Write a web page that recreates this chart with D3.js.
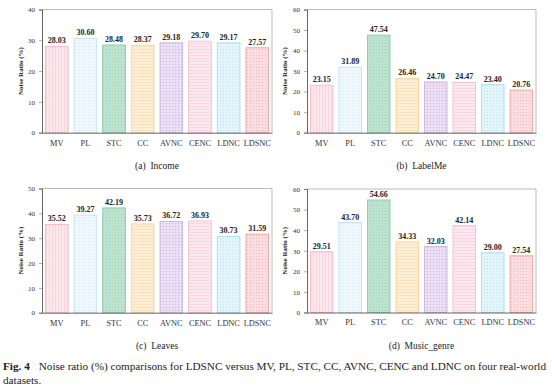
<!DOCTYPE html>
<html><head><meta charset="utf-8">
<script src="https://cdn.jsdelivr.net/npm/d3@7"></script>
<style>
body{margin:0;background:#fff;}
svg text{font-family:"Liberation Serif","Times New Roman",serif;}
</style></head>
<body>
<svg id="chart" width="554" height="392"></svg>
<script>
const methods = ["MV","PL","STC","CC","AVNC","CENC","LDNC","LDSNC"];
const incomeValues = [28.03,30.60,28.48,28.37,29.18,29.70,29.17,27.57];
const labelMeValues = [23.15,31.89,47.54,26.46,24.70,24.47,23.40,20.76];
const leavesValues = [35.52,39.27,42.19,35.73,36.72,36.93,30.73,31.59];
const musicValues = [29.51,43.70,54.66,34.33,32.03,42.14,29.00,27.54];
const incomeTicks = [0,10,20,30,40];
const labelMeTicks = [0,10,20,30,40,50,60];
const leavesTicks = [0,10,20,30,40,50];
const musicTicks = [0,10,20,30,40,50,60];
const captions = ["(a)  Income","(b)  LabelMe","(c)  Leaves","(d)  Music_genre"];
const yTitle = "Noise Ratio (%)";
const figCaptionBold = "Fig. 4";
const figCaptionLine1 = "Noise ratio (%) comparisons for LDSNC versus MV, PL, STC, CC, AVNC, CENC and LDNC on four real-world";
const figCaptionLine2 = "datasets.";

// styles
const fills = ["#fce9ed","#f0f8fd","#bde3d0","#fdeed6","#eee4f5","#fde9f0","#e3f4fb","#fbdedf"];
const strokes = ["#f6b8c4","#bfe3f5","#86cdab","#f9d29c","#cbb5e0","#f6bcd0","#a9dcf1","#f2a0a2"];
const patType = ["v","dot","dot","h","grid","h","dot","dot"];

const svg = d3.select("#chart");
const defs = svg.append("defs");
methods.forEach((m,i)=>{
  const p = defs.append("pattern").attr("id","pat"+i).attr("patternUnits","userSpaceOnUse")
    .attr("width",3).attr("height",3);
  p.append("rect").attr("width",3).attr("height",3).attr("fill",fills[i]);
  const c = strokes[i];
  if(patType[i]==="v") p.append("line").attr("x1",1.5).attr("x2",1.5).attr("y1",0).attr("y2",3).attr("stroke",c).attr("stroke-width",0.6).attr("opacity",0.7);
  else if(patType[i]==="h") p.append("line").attr("x1",0).attr("x2",3).attr("y1",1.5).attr("y2",1.5).attr("stroke",c).attr("stroke-width",0.6).attr("opacity",0.7);
  else if(patType[i]==="grid"){
    p.append("line").attr("x1",0).attr("x2",3).attr("y1",1.5).attr("y2",1.5).attr("stroke",c).attr("stroke-width",0.5).attr("opacity",0.7);
    p.append("line").attr("x1",1.5).attr("x2",1.5).attr("y1",0).attr("y2",3).attr("stroke",c).attr("stroke-width",0.5).attr("opacity",0.7);
  } else p.append("circle").attr("cx",1.5).attr("cy",1.5).attr("r",0.6).attr("fill",c).attr("opacity",0.7);
});

const panels = [
  {vals:incomeValues, ticks:incomeTicks, x0:42, x1:272, y0:9.5, y1:132.7, titleX:23},
  {vals:labelMeValues, ticks:labelMeTicks, x0:307, x1:536, y0:9.5, y1:132.7, titleX:287},
  {vals:leavesValues, ticks:leavesTicks, x0:42, x1:272, y0:188.5, y1:312.7, titleX:23},
  {vals:musicValues, ticks:musicTicks, x0:307, x1:536, y0:189, y1:312.5, titleX:287}
];

panels.forEach((P,pi)=>{
  const g = svg.append("g");
  const x = d3.scaleBand().domain(methods).range([P.x0,P.x1]).paddingInner(0.21).paddingOuter(0.12);
  const y = d3.scaleLinear().domain([0,d3.max(P.ticks)]).range([P.y1,P.y0]);
  g.append("path").attr("d",`M${P.x0},${P.y0}H${P.x1}V${P.y1}`).attr("fill","none").attr("stroke","#aaa").attr("stroke-width",0.8);
  g.selectAll("rect.bar").data(P.vals).join("rect").attr("class","bar")
    .attr("x",(d,i)=>x(methods[i])).attr("width",x.bandwidth())
    .attr("y",d=>y(d)).attr("height",d=>y(0)-y(d))
    .attr("fill",(d,i)=>`url(#pat${i})`).attr("stroke",(d,i)=>strokes[i]).attr("stroke-width",0.9);
  g.selectAll("text.val").data(P.vals).join("text").attr("class","val")
    .attr("x",(d,i)=>x(methods[i])+x.bandwidth()/2).attr("y",d=>y(d)-3)
    .attr("text-anchor","middle").attr("font-size",8).attr("font-weight","bold").attr("fill","#222")
    .text(d=>d.toFixed(2));
  const ya = g.append("g").attr("transform",`translate(${P.x0},0)`)
    .call(d3.axisLeft(y).tickValues(P.ticks).tickSize(3).tickPadding(4).tickFormat(d3.format("d")));
  ya.select(".domain").attr("stroke","#555").attr("stroke-width",0.9);
  ya.selectAll(".tick line").attr("stroke","#777").attr("stroke-width",0.6);
  ya.selectAll(".tick text").attr("font-size",7).attr("fill","#333").attr("font-family","Liberation Serif");
  const xa = g.append("g").attr("transform",`translate(0,${P.y1})`)
    .call(d3.axisBottom(x).tickSize(0).tickPadding(7));
  xa.select(".domain").attr("stroke","#555").attr("stroke-width",0.9);
  xa.selectAll(".tick text").attr("font-size",8.3).attr("fill","#333").attr("font-family","Liberation Serif");
  const cy = (P.y0+P.y1)/2;
  g.append("text").attr("transform",`translate(${P.titleX},${cy}) rotate(-90)`)
    .attr("text-anchor","middle").attr("font-size",7).attr("font-weight","bold").attr("fill","#222").text(yTitle);
  g.append("text").attr("x",(P.x0+P.x1)/2).attr("y",P.y1+36.5)
    .attr("text-anchor","middle").attr("font-size",9.5).attr("fill","#222").attr("xml:space","preserve").text(captions[pi]);
});

const fc = svg.append("text").attr("x",3).attr("y",370).attr("font-size",11.2).attr("fill","#222");
fc.append("tspan").attr("font-weight","bold").text(figCaptionBold);
fc.append("tspan").attr("dx",9).text(figCaptionLine1);
svg.append("text").attr("x",3).attr("y",384).attr("font-size",11.2).attr("fill","#222").text(figCaptionLine2);
</script>
</body></html>
